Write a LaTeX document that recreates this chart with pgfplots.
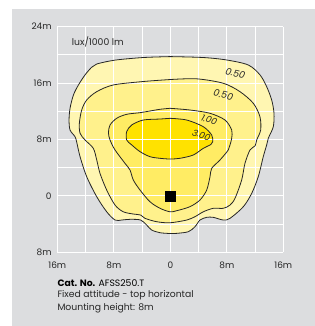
\documentclass[border=0pt]{standalone}
\usepackage{pgfplots}
\pgfplotsset{compat=1.18}
\usepackage{pgfplotstable}
\usepackage{fontspec}
\setmainfont{Poppins}
\definecolor{bggray}{RGB}{220,221,223}
\definecolor{yA}{RGB}{255,246,178}
\definecolor{yB}{RGB}{255,241,140}
\definecolor{yC}{RGB}{255,236,100}
\definecolor{yD}{RGB}{255,226,0}

\pgfplotstableread{
x y
0.00 19.75
4.67 19.62
7.98 19.27
11.04 18.56
12.70 17.15
13.64 15.49
14.35 13.60
14.68 11.71
14.58 9.81
13.87 8.17
13.64 7.22
13.16 5.56
12.45 2.72
11.52 0.36
10.33 -1.54
8.45 -3.18
7.50 -3.42
6.08 -3.04
5.15 -3.04
4.20 -3.42
3.49 -4.37
2.54 -5.08
0.90 -5.31
-0.05 -5.33
-1.46 -5.22
-2.64 -4.84
-3.35 -4.13
-4.20 -3.42
-5.71 -3.32
-6.89 -3.42
-7.83 -3.42
-9.01 -2.25
-10.42 -0.12
-11.84 2.72
-12.78 5.56
-13.25 7.60
-13.49 8.39
-14.20 9.34
-14.34 10.76
-14.20 12.42
-13.72 14.31
-13.01 15.73
-12.08 17.15
-11.14 18.24
-10.43 18.70
-7.84 19.25
-3.83 19.62
0.00 19.75
}\outerc

\pgfplotstableread{
x y
0.00 16.50
3.73 16.60
7.50 15.97
9.86 14.78
11.75 13.13
12.69 11.23
12.79 9.34
12.23 7.93
12.00 7.10
11.28 6.51
10.57 4.62
10.10 2.25
9.16 -0.34
8.45 -1.30
7.50 -1.76
6.08 -1.76
4.67 -2.25
3.49 -2.95
2.32 -3.42
-0.05 -3.81
-1.93 -3.66
-3.59 -3.18
-4.20 -2.71
-5.24 -2.57
-6.66 -2.25
-7.83 -1.30
-9.01 0.83
-9.96 3.20
-10.42 5.09
-10.91 6.75
-12.08 7.93
-12.78 8.88
-12.88 10.30
-12.55 12.18
-11.84 13.60
-10.42 14.78
-8.07 15.73
-3.83 16.22
0.00 16.50
}\midc

\pgfplotstableread{
x y
-0.05 12.42
2.78 12.18
5.62 11.71
7.74 10.76
8.69 9.34
8.69 8.17
8.45 7.22
8.21 6.51
7.03 5.09
5.86 3.91
5.62 2.72
5.15 0.83
4.20 -0.58
2.78 -1.53
0.90 -2.10
-0.05 -2.25
-1.46 -1.76
-2.88 -0.83
-4.29 0.83
-5.24 2.25
-5.71 3.67
-6.42 4.62
-7.83 6.51
-8.54 7.93
-8.76 8.95
-8.54 10.05
-7.59 11.01
-6.18 11.57
-4.29 11.80
-2.88 12.04
-1.46 12.28
-0.05 12.42
}\onec

\pgfplotstableread{
x y
-0.05 11.00
2.32 10.76
4.67 9.81
5.86 8.63
6.00 7.68
5.76 7.30
4.67 6.75
3.25 5.80
1.37 5.33
-0.05 5.23
-1.46 5.33
-2.88 5.56
-4.29 6.27
-5.46 7.22
-6.18 7.93
-6.18 9.11
-5.46 10.06
-3.83 10.76
-1.46 10.90
-0.05 11.00
}\threec

\pgfplotstableread{
x y
0 0
}\lamp

\begin{document}
\begin{tikzpicture}
\fill[white] (0,0) rectangle (315bp,326bp);
\fill[bggray] (12.3bp,0) rectangle (315bp,317bp);
\useasboundingbox (0,0) rectangle (315bp,326bp);
\begin{axis}[
  at={(57.33bp,73.67bp)}, anchor=south west,
  width=226bp, height=225.7bp, scale only axis,
  xmin=-16, xmax=16, ymin=-8, ymax=24,
  axis line style={draw=none},
  major tick length=0pt,
  xtick={-16,-12,...,16},
  xticklabels={16m,,8m,,0,,8m,,16m},
  ytick={-8,-4,...,24},
  yticklabels={8m,,0,,8m,,16m,,24m},
  tick label style={font=\fontsize{9}{10}\selectfont, text=black!85},
  xticklabel style={inner sep=0pt, anchor=north, yshift=-9.8bp},
  yticklabel style={inner sep=0pt, anchor=east, xshift=-5.6bp},
  clip=false,
]
\addplot[fill=yA, draw=none, smooth, tension=0.5] table {\outerc} -- cycle;
\addplot[fill=yB, draw=none, smooth, tension=0.5] table {\midc} -- cycle;
\addplot[fill=yC, draw=none, smooth, tension=0.5] table {\onec} -- cycle;
\addplot[fill=yD, draw=none, smooth, tension=0.5] table {\threec} -- cycle;
\pgfplotsinvokeforeach{-16,-12,...,16}{
  \draw[white, line width=0.9bp] (axis cs:#1,-8) -- (axis cs:#1,24);
  \draw[white, line width=0.9bp] (axis cs:-16,#1+8) -- (axis cs:16,#1+8);
}
\addplot[draw=black!85, line width=0.8bp, smooth, tension=0.5] table {\outerc} -- cycle;
\addplot[draw=black!85, line width=0.8bp, smooth, tension=0.5] table {\midc} -- cycle;
\addplot[draw=black!85, line width=0.8bp, smooth, tension=0.5] table {\onec} -- cycle;
\addplot[draw=black!85, line width=0.8bp, smooth, tension=0.5] table {\threec} -- cycle;
\addplot[only marks, mark=square*, mark size=4.8bp, black] table {\lamp};
\node[font=\fontsize{9.5}{10}\selectfont\itshape, rotate=-14, text=black!85, inner sep=0pt] at (axis cs:9.2,17.4) {0.50};
\node[font=\fontsize{9.5}{10}\selectfont\itshape, rotate=-14, text=black!85, inner sep=0pt] at (axis cs:7.5,14.3) {0.50};
\node[font=\fontsize{9}{10}\selectfont\itshape, rotate=-20, text=black!85, inner sep=0pt] at (axis cs:5.5,10.8) {1.00};
\node[font=\fontsize{9}{10}\selectfont\itshape, rotate=-20, text=black!85, inner sep=0pt] at (axis cs:4.4,8.6) {3.00};
\end{axis}
\node[anchor=base west, inner sep=0pt, font=\fontsize{9.3}{10}\selectfont, text=black!85] at (71.7bp,280.3bp) {lux/1000 lm};
\node[anchor=base west, inner sep=0pt, font=\fontsize{9.3}{10}\selectfont] at (57.3bp,39.3bp) {\textbf{Cat. No.} AFSS250.T};
\node[anchor=base west, inner sep=0pt, font=\fontsize{9.3}{10}\selectfont, text=black!85] at (57.3bp,28.3bp) {Fixed attitude - top horizontal};
\node[anchor=base west, inner sep=0pt, font=\fontsize{9.3}{10}\selectfont, text=black!85] at (57.3bp,15.3bp) {Mounting height: 8m};
\end{tikzpicture}
\end{document}
